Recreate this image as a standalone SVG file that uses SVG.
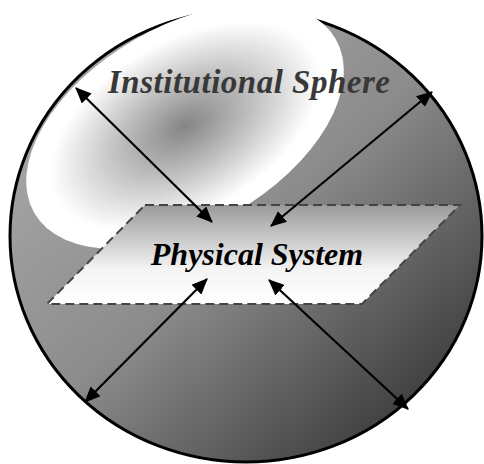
<svg xmlns="http://www.w3.org/2000/svg" width="484" height="464" viewBox="0 0 484 464">
<style>
.conn{stroke:#000;stroke-width:2.2;fill:none;marker-start:url(#ah);marker-end:url(#ah)}
.lbl{font-family:"Liberation Serif","Times New Roman",serif;font-weight:bold;font-style:italic;text-anchor:middle}
</style>
<defs>
<linearGradient id="gSphere" x1="0.15" y1="0.1" x2="0.95" y2="0.95">
<stop offset="0" stop-color="#a8a8a8"/>
<stop offset="0.45" stop-color="#8c8c8c"/>
<stop offset="1" stop-color="#2e2e2e"/>
</linearGradient>
<radialGradient id="gInst" cx="0.5" cy="0.5" r="0.5">
<stop offset="0" stop-color="#858585"/>
<stop offset="0.45" stop-color="#c4c4c4"/>
<stop offset="0.85" stop-color="#ffffff"/>
<stop offset="1" stop-color="#ffffff"/>
</radialGradient>
<linearGradient id="gPhys" x1="0" y1="0" x2="0" y2="1">
<stop offset="0" stop-color="#9a9a9a"/>
<stop offset="0.65" stop-color="#f4f4f4"/>
<stop offset="1" stop-color="#ffffff"/>
</linearGradient>
<marker id="ah" viewBox="0 0 16 14" refX="15" refY="7" markerWidth="16" markerHeight="14" markerUnits="userSpaceOnUse" orient="auto-start-reverse">
<path d="M0,0 L16,7 L0,14 z" fill="#000"/>
</marker>
</defs>
<g id="sphere">
<ellipse cx="246" cy="236" rx="236" ry="226" fill="url(#gSphere)" stroke="#000" stroke-width="3"/>
</g>
<g id="institutional-sphere">
<ellipse cx="185" cy="126" rx="174" ry="100" transform="rotate(-30 185 126)" fill="url(#gInst)"/>
<text class="lbl" x="249" y="93" font-size="33" fill="#383838" textLength="282" lengthAdjust="spacing">Institutional Sphere</text>
</g>
<g id="physical-system">
<polygon points="145,205 460,205 362,304 47,304" fill="url(#gPhys)" stroke="#444" stroke-width="2" stroke-dasharray="9,5"/>
<text class="lbl" x="257" y="265" font-size="32" fill="#000">Physical System</text>
</g>
<g id="connectors">
<line class="conn" x1="212" y1="222" x2="76" y2="88"/>
<line class="conn" x1="271" y1="226" x2="432" y2="92"/>
<line class="conn" x1="207" y1="279" x2="85" y2="402"/>
<line class="conn" x1="269" y1="280" x2="408" y2="409"/>
</g>
</svg>
